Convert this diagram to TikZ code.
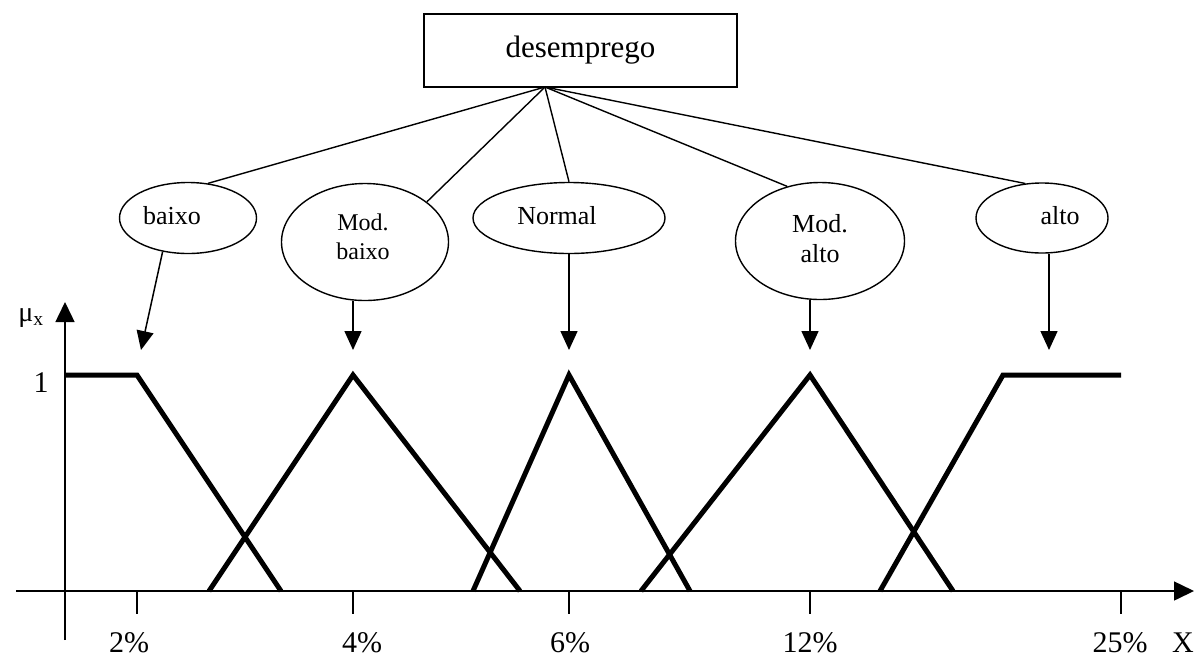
\documentclass[tikz,border=0pt]{standalone}
\usepackage{fontspec}
\setmainfont{Liberation Serif}
\usetikzlibrary{shapes.geometric,arrows.meta}
\begin{document}
\begin{tikzpicture}[x=1pt,y=-1pt,
  thin/.style={line width=1.4pt},
  arr/.style={line width=1.5pt,-{Triangle[length=19pt,width=17pt]}},
  axis/.style={line width=1.5pt,-{Triangle[length=20pt,width=19pt]}},
  memb/.style={line width=5pt,line join=miter},
  ell/.style={draw,ellipse,line width=1.4pt,inner sep=0pt},
  lab/.style={font=\fontsize{26}{30}\selectfont},
  pct/.style={font=\fontsize{30}{34}\selectfont,anchor=base},
  tick/.style={line width=1.5pt}]
\useasboundingbox (0,0) rectangle (1201,657);
% top box
\node[draw,line width=2pt,minimum width=313pt,minimum height=73pt,inner sep=0pt,
  font=\fontsize{31}{36}\selectfont] (box) at (580.5,50.5) {desemprego};
\coordinate (apex) at (545,87);
% ellipses
\node[ell,minimum width=137pt,minimum height=71pt] (eb) at (188,218) {};
\node[ell,minimum width=167pt,minimum height=117pt] (emb) at (365,242) {};
\node[ell,minimum width=192pt,minimum height=71pt] (en) at (569,218) {};
\node[ell,minimum width=169pt,minimum height=117pt] (ema) at (820,241) {};
\node[ell,minimum width=132pt,minimum height=70pt] (ea) at (1042,218) {};
% ellipse texts
\node[lab] (tbaixo) at (172,216) {baixo};
\node[font=\fontsize{24}{29}\selectfont,align=center] (tmodb) at (363,237) {Mod.\\baixo};
\node[lab] (tnorm) at (557,216) {Normal};
\node[lab,align=center] (tmoda) at (820,239) {Mod.\\alto};
\node[lab] (talto) at (1060,216) {alto};
% connectors from box
\draw[thin] (apex) -- (eb.60);
\draw[thin] (apex) -- (emb.33);
\draw[thin] (apex) -- (en.north);
\draw[thin] (apex) -- (ema.121);
\draw[thin] (apex) -- (ea.116);
% arrow tips
\coordinate (kb) at (141,350);
\coordinate (kmb) at (353,350);
\coordinate (kn) at (569,350);
\coordinate (kma) at (810,350);
\coordinate (ka) at (1049,350);
\draw[arr] (eb.-127) -- (kb);
\draw[arr] (emb.south -| kmb) -- (kmb);
\draw[arr] (en.south -| kn) -- (kn);
\draw[arr] (ema.south -| kma) -- (kma);
\draw[arr] (ea.south -| ka) -- (ka);
% axes
\coordinate (ybot) at (65,640);
\coordinate (ytop) at (65,302);
\coordinate (xl) at (16,591);
\coordinate (xr) at (1194,591);
\draw[axis] (ybot) -- (ytop);
\draw[axis] (xl) -- (xr);
\node[font=\fontsize{28}{30}\selectfont] (mu) at (31,318) {μ\textsubscript{x}};
\node[font=\fontsize{30}{34}\selectfont] (one) at (41,383) {1};
% ticks
\foreach \x in {137,353,569,810,1121}{
  \draw[tick] (\x,591) -- (\x,614);
}
\node[pct] (p2) at (129,652) {2\%};
\node[pct] (p4) at (362,652) {4\%};
\node[pct] (p6) at (570,652) {6\%};
\node[pct] (p12) at (810,652) {12\%};
\node[pct] (p25) at (1120,652) {25\%};
\node[pct] (px) at (1183,652) {X};
% membership functions
\draw[memb] (65,375) -- (137,375) -- (281,591);
\draw[memb] (209,591) -- (353,375) -- (520,591);
\draw[memb] (473,591) -- (569,375) -- (690,591);
\draw[memb] (641,591) -- (810,375) -- (953,591);
\draw[memb] (880,591) -- (1003,375) -- (1121,375);
\end{tikzpicture}
\end{document}
